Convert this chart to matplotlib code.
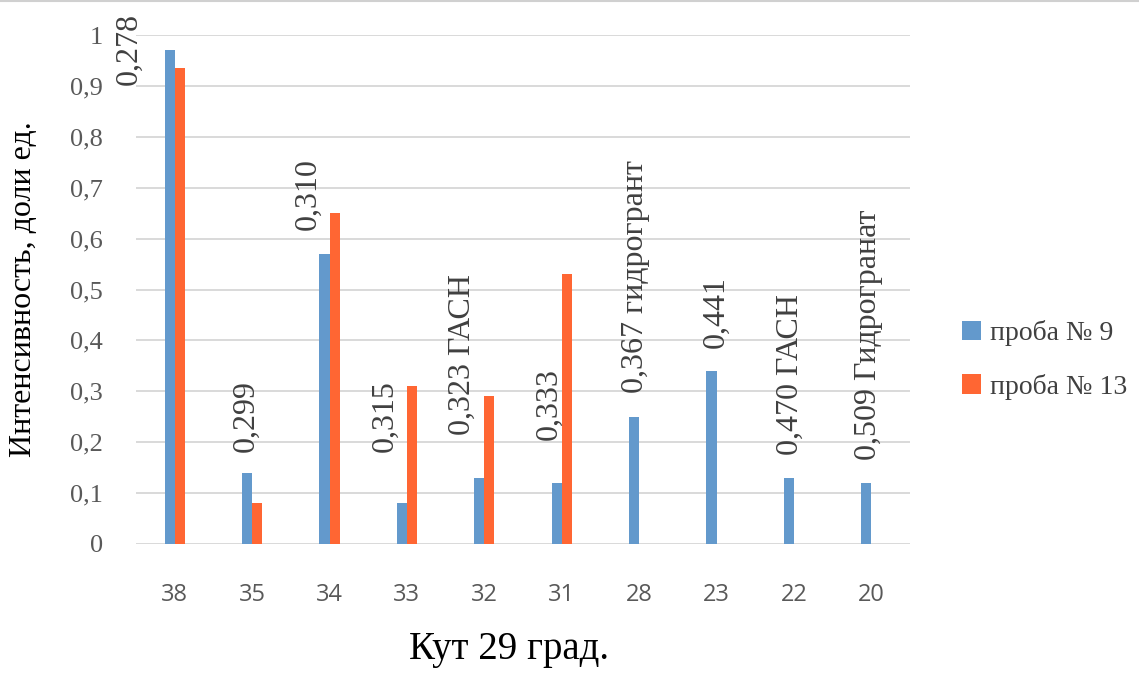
import matplotlib
matplotlib.use("Agg")
import matplotlib.pyplot as plt
from matplotlib.lines import Line2D
import numpy as np

# Diffraction angles (x categories) and relative intensities for two samples
angles = ["38", "35", "34", "33", "32", "31", "28", "23", "22", "20"]
sample9 = [0.97, 0.14, 0.57, 0.08, 0.13, 0.12, 0.25, 0.34, 0.13, 0.12]
sample13 = [0.935, 0.08, 0.65, 0.31, 0.29, 0.53, 0, 0, 0, 0]

# Peak annotations: d-spacing text, horizontal offset from category, baseline height
peak_labels = ["0,278", "0,299", "0,310", "0,315", "0,323 ГАСН", "0,333",
               "0,367 гидрогрант", "0,441", "0,470 ГАСН", "0,509 Гидрогранат"]
peak_dx = [-0.59, -0.08, -0.28, -0.28, -0.28, -0.16, -0.05, 0.0, -0.05, -0.04]
peak_y = [0.902, 0.181, 0.617, 0.181, 0.214, 0.204, 0.297, 0.385, 0.175, 0.165]

y_ticks = [0, 0.1, 0.2, 0.3, 0.4, 0.5, 0.6, 0.7, 0.8, 0.9, 1.0]
y_tick_labels = ["0", "0,1", "0,2", "0,3", "0,4", "0,5", "0,6", "0,7", "0,8", "0,9", "1"]

BLUE = "#6399CC"
ORANGE = "#FF6633"
SERIF = "Liberation Serif"

fig = plt.figure(figsize=(11.39, 6.73), dpi=100)
ax = fig.add_axes([136 / 1139, 1 - 544 / 673, 774 / 1139, 509 / 673])

x = np.arange(len(angles))
w = 0.13
ax.bar(x - w / 2, sample9, width=w, color=BLUE, label="проба № 9", zorder=3)
ax.bar(x + w / 2, sample13, width=w, color=ORANGE, label="проба № 13", zorder=3)

for xi, txt, dx, yy in zip(x, peak_labels, peak_dx, peak_y):
    ax.text(xi + dx, yy, txt, rotation=90, ha="center", va="bottom",
            fontsize=23, fontfamily=SERIF, color="#404040", zorder=4)

ax.set_xlim(-0.5, len(angles) - 0.5)
ax.set_ylim(0, 1)
ax.set_yticks(y_ticks)
ax.set_yticklabels(y_tick_labels, fontsize=19, fontfamily=SERIF, color="#595959")
ax.set_xticks(x)
ax.set_xticklabels(angles, fontsize=17, fontfamily="Open Sans", color="#595959")
ax.tick_params(axis="y", length=0, pad=24)
ax.tick_params(axis="x", length=0, pad=28)
ax.yaxis.grid(True, color="#d9d9d9", linewidth=1.4, zorder=0)
ax.set_axisbelow(True)
for s in ax.spines.values():
    s.set_visible(False)

fig.text(24 / 1139, 1 - 289 / 673, "Интенсивность, доли ед.", rotation=90,
         ha="center", va="center", fontsize=23, fontfamily=SERIF, color="black")
fig.text(509 / 1139, 1 - 650 / 673, "Кут 29 град.", ha="center", va="center",
         fontsize=28, fontfamily=SERIF, color="black")

leg = ax.legend(loc="center left", bbox_to_anchor=(948 / 1139, 1 - 360 / 673),
                bbox_transform=fig.transFigure, frameon=False,
                prop={"family": SERIF, "size": 20}, handlelength=0.7,
                handleheight=0.7, handletextpad=0.3, labelspacing=1.0,
                borderpad=0)
for t in leg.get_texts():
    t.set_color("#404040")

fig.add_artist(Line2D([0, 1], [0.999, 0.999], transform=fig.transFigure,
                      color="#d0d0d0", linewidth=1.5))

fig.savefig("out.png", dpi=100, facecolor="white")
